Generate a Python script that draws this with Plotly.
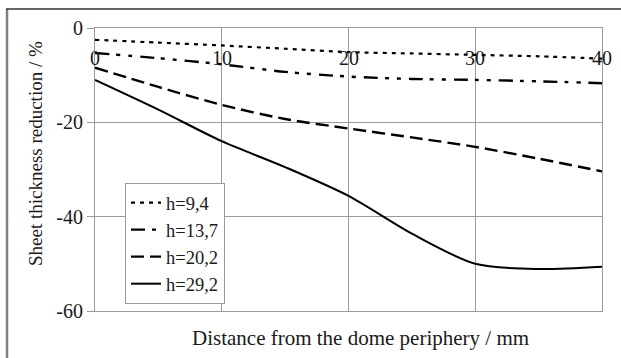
import plotly.graph_objects as go

# ---- data ----
distance = [0, 5, 10, 15, 20, 25, 30, 35, 40]
h_9_4 = [-2.5, -3.1, -3.7, -4.4, -5.1, -5.4, -5.7, -6.0, -6.5]
h_13_7 = [-5.3, -6.4, -7.7, -9.3, -10.3, -10.8, -11.0, -11.3, -11.7]
h_20_2 = [-8.4, -12.5, -16.3, -19.3, -21.3, -23.2, -25.2, -27.7, -30.4]
h_29_2 = [-11.0, -17.3, -24.0, -29.5, -35.6, -43.6, -50.0, -51.1, -50.6]
series_names = ["h=9,4", "h=13,7", "h=20,2", "h=29,2"]
x_tickvals = [0, 10, 20, 30, 40]
x_ticktext = ["0", "10", "20", "30", "40"]
y_tickvals = [0, -20, -40, -60]
y_ticktext = ["0", "-20", "-40", "-60"]

FONT = "Liberation Serif, Times New Roman, serif"
FS = 20
W, H = 621, 358
L, R, T, B = 95, 19, 28, 47
PW, PH = W - L - R, H - T - B


def px(xp):
    return (xp - L) / PW


def py(yp):
    return (H - B - yp) / PH


styles = [
    dict(dash="4px,5px", width=2.2),
    dict(dash="14px,7px,4px,8px,4px,8px", width=2.4),
    dict(dash="13px,6px", width=2.4),
    dict(dash="solid", width=2.0),
]

fig = go.Figure()
for name, ys, st in zip(series_names, [h_9_4, h_13_7, h_20_2, h_29_2], styles):
    fig.add_trace(go.Scatter(
        x=distance, y=ys, name=name, mode="lines",
        line=dict(color="black", width=st["width"], dash=st["dash"], shape="spline", smoothing=0.8),
    ))

fig.update_xaxes(
    range=[0, 40], tickvals=x_tickvals, showticklabels=False,
    showgrid=True, gridcolor="#9a9a9a", gridwidth=1,
    showline=True, mirror=True, linecolor="#9a9a9a", linewidth=1,
    zeroline=False, ticks="",
)
fig.update_yaxes(
    range=[-60, 0], tickvals=y_tickvals, ticktext=y_ticktext,
    showgrid=True, gridcolor="#9a9a9a", gridwidth=1,
    showline=True, mirror=True, linecolor="#9a9a9a", linewidth=1,
    zeroline=False, ticks="outside", ticklen=7, tickcolor="#9a9a9a",
    tickfont=dict(family=FONT, size=FS, color="#1a1a1a"),
)

annotations = []
for v, t in zip(x_tickvals, x_ticktext):
    annotations.append(dict(x=v, y=-6.4, xref="x", yref="y", text=t, showarrow=False,
                            font=dict(family=FONT, size=FS, color="#1a1a1a"),
                            xanchor="center", yanchor="middle"))
annotations.append(dict(x=px(360), y=py(338), xref="paper", yref="paper",
                        text="Distance from the dome periphery / mm", showarrow=False,
                        font=dict(family=FONT, size=21, color="#1a1a1a"),
                        xanchor="center", yanchor="middle"))
annotations.append(dict(x=px(35), y=py(154), xref="paper", yref="paper",
                        text="Sheet thickness reduction / %", showarrow=False, textangle=-90,
                        font=dict(family=FONT, size=19, color="#1a1a1a"),
                        xanchor="center", yanchor="middle"))

shapes = [
    dict(type="line", xref="paper", yref="paper", x0=px(7), x1=px(7), y0=py(9), y1=py(370),
         line=dict(color="#808080", width=2.5)),
    dict(type="line", xref="paper", yref="paper", x0=px(6), x1=px(630), y0=py(9), y1=py(9),
         line=dict(color="#333333", width=1.5)),
]

fig.update_layout(
    width=W, height=H,
    margin=dict(l=L, r=R, t=T, b=B),
    paper_bgcolor="white", plot_bgcolor="white",
    font=dict(family=FONT, size=FS, color="#1a1a1a"),
    showlegend=True,
    legend=dict(x=px(125), y=py(183), xanchor="left", yanchor="top",
                bgcolor="white", bordercolor="#9a9a9a", borderwidth=1,
                font=dict(family=FONT, size=18.5, color="#1a1a1a"),
                itemwidth=30, traceorder="normal"),
    annotations=annotations,
    shapes=shapes,
)

fig.write_html("out.html")
